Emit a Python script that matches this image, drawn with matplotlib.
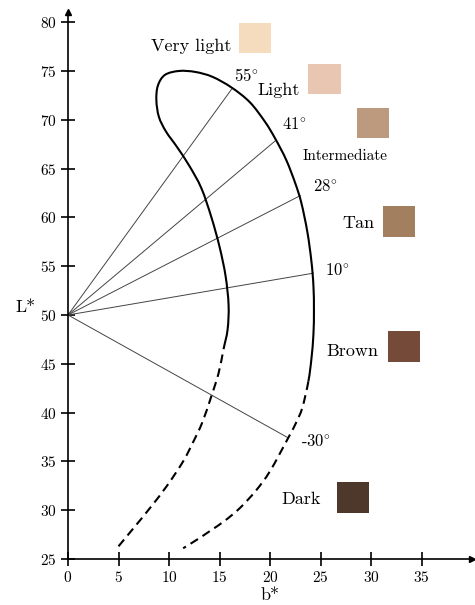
import numpy as np
import matplotlib
matplotlib.use("Agg")
import matplotlib.pyplot as plt
from matplotlib.patches import Rectangle, PathPatch
from matplotlib.path import Path

plt.rcParams['font.family'] = 'serif'
plt.rcParams['font.serif'] = ['cmr10', 'DejaVu Serif']
plt.rcParams['mathtext.fontset'] = 'cm'
plt.rcParams['axes.formatter.use_mathtext'] = True

# ITA boundary angles and b* where each ray meets the outer curve
ita_angles = [55, 41, 28, 10, -30]
ray_b_end = [16.2, 20.5, 23.0, 24.3, 21.7]
angle_label_pos = [(16.4, 74.5), (21.2, 69.6), (24.3, 63.2), (25.4, 54.6), (23.1, 37.1)]

# boundary curve (b*, L*), listed from the inner bottom end round to the outer bottom end
inner_dash_b = [5.0, 6.6, 8.1, 9.8, 11.4, 12.4, 13.3, 14.2, 14.9]
inner_dash_L = [26.3, 28.3, 30.2, 32.5, 35.0, 37.0, 39.0, 41.7, 44.0]
solid_b = [15.4, 15.8, 15.9, 15.6, 15.0, 14.2, 13.2, 12.0, 10.8, 9.7, 9.0, 8.75, 8.9, 9.6,
           11.0, 12.6, 14.3, 16.2, 18.0, 19.5, 20.5, 21.6, 22.5, 23.1, 23.7, 24.1, 24.3,
           24.35, 24.3, 24.1, 23.8]
solid_L = [46.5, 48.5, 51.0, 54.0, 57.0, 60.0, 63.0, 65.3, 67.2, 68.8, 70.3, 72.0, 73.5, 74.6,
           75.0, 74.9, 74.4, 73.3, 71.8, 69.8, 68.1, 65.9, 63.5, 61.5, 58.5, 55.5, 53.0,
           50.5, 48.0, 45.5, 43.2]
outer_dash_b = [23.2, 22.6, 21.8, 20.0, 18.6, 17.0, 15.5, 14.1, 12.8, 11.4]
outer_dash_L = [40.5, 39.0, 37.4, 34.0, 32.0, 30.2, 28.9, 27.9, 27.0, 26.1]

# skin categories
categories = ['Very light', 'Light', 'Intermediate', 'Tan', 'Brown', 'Dark']
swatch_colors = ['#F6DCBF', '#E9C6B2', '#BD9A7E', '#A27F5F', '#754A38', '#4E382B']
swatch_xy = [(16.9, 76.8), (23.8, 72.6), (28.6, 68.1), (31.2, 58.0), (31.7, 45.2), (26.6, 29.7)]
label_xy = [(16.2, 77.5), (23.0, 73.0), (27.4, 66.3), (30.3, 59.4), (30.7, 46.3), (25.0, 31.1)]


def bezier_segments(xs, ys):
    # Catmull-Rom through the points, as cubic Bezier segments
    p = np.column_stack([xs, ys])
    p = np.vstack([p[0], p, p[-1]])
    segs = []
    for i in range(1, len(p) - 2):
        c1 = p[i] + (p[i + 1] - p[i - 1]) / 6
        c2 = p[i + 1] - (p[i + 2] - p[i]) / 6
        segs.append((p[i], c1, c2, p[i + 1]))
    return segs


def segs_to_path(segs):
    verts = [segs[0][0]]
    codes = [Path.MOVETO]
    for s in segs:
        verts += [s[1], s[2], s[3]]
        codes += [Path.CURVE4] * 3
    return Path(verts, codes)


fig = plt.figure(figsize=(4.75, 6.05), dpi=100)
ax = fig.add_axes([68 / 475, 46 / 605, 404 / 475, 546.6 / 605])
ax.set_xlim(0, 40)
ax.set_ylim(25, 81)

for ang, b in zip(ita_angles, ray_b_end):
    L = 50 + b * np.tan(np.radians(ang))
    ax.plot([0, b], [50, L], color='#444444', lw=0.7, zorder=2)

all_b = inner_dash_b + solid_b + outer_dash_b
all_L = inner_dash_L + solid_L + outer_dash_L
segs = bezier_segments(all_b, all_L)
n1 = len(inner_dash_b)
n2 = n1 + len(solid_b) - 1
dash = (0, (4.2, 2.6))
ax.add_patch(PathPatch(segs_to_path(segs[:n1]), fill=False, edgecolor='black',
                       lw=1.5, ls=dash, zorder=3))
ax.add_patch(PathPatch(segs_to_path(segs[n1:n2]), fill=False, edgecolor='black',
                       lw=1.5, zorder=3))
ax.add_patch(PathPatch(segs_to_path(segs[n2:]), fill=False, edgecolor='black',
                       lw=1.5, ls=dash, zorder=3))

for ang, (x, y) in zip(ita_angles, angle_label_pos):
    if ang < 0:
        s = '-$%d^{\\circ}$' % abs(ang)
    else:
        s = '$%d^{\\circ}$' % ang
    ax.text(x, y, s, fontsize=12, ha='left', va='center')

for i, name in enumerate(categories):
    sx, sy = swatch_xy[i]
    ax.add_patch(Rectangle((sx, sy), 3.2, 3.15, facecolor=swatch_colors[i],
                           edgecolor='none', zorder=2))
    lx, ly = label_xy[i]
    if name == 'Intermediate':
        ax.text(lx, ly, name, fontsize=11, ha='center', va='center')
    else:
        ax.text(lx, ly, name, fontsize=13, ha='right', va='center')

ax.set_xticks(np.arange(0, 40, 5))
ax.set_yticks(np.arange(25, 81, 5))
ax.tick_params(direction='inout', length=10, width=1.2, labelsize=11, pad=3)
for s in ['top', 'right']:
    ax.spines[s].set_visible(False)
for s in ['left', 'bottom']:
    ax.spines[s].set_linewidth(1.2)

ax.plot(1, 0, '>', color='black', ms=5, transform=ax.transAxes, clip_on=False)
ax.plot(0, 1, '^', color='black', ms=5, transform=ax.transAxes, clip_on=False)

ax.set_xlabel('b*', fontsize=13, labelpad=2)
ax.set_ylabel('L*', fontsize=13, rotation=0)
ax.yaxis.set_label_coords(-0.105, (50 - 25) / 56)

fig.savefig('out.png', dpi=100)
